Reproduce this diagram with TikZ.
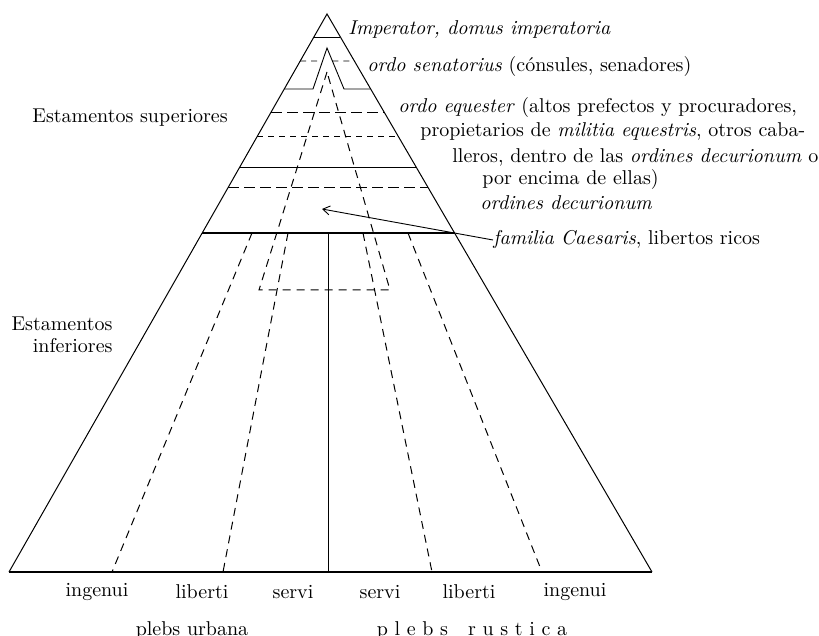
\documentclass[tikz,border=0pt]{standalone}
\usepackage{fontspec}
\usepackage{tikz}
\usetikzlibrary{arrows.meta,calc}

\begin{document}
\begin{tikzpicture}[x=0.5pt,y=-0.5pt,>={Straight Barb[length=3.5pt,width=4.5pt]},
  side/.style={line width=.5pt},
  rank/.style={line width=.45pt},
  rankdash/.style={rank,dash pattern=on 5.5pt off 2.5pt},
  rankfine/.style={rank,dash pattern=on 3pt off 2.5pt},
  split/.style={line width=.5pt,dash pattern=on 4pt off 3pt},
  lbl/.style={font=\fontsize{10}{12}\selectfont,inner sep=0pt,anchor=west},
  col/.style={font=\fontsize{10}{11}\selectfont,inner sep=0pt}]
 \useasboundingbox (0,0) rectangle (819,636);
 \coordinate (apex) at (327,14);
 \coordinate (bl) at (9,572);
 \coordinate (br) at (652,572);
 \draw[side] (bl) -- (apex) -- (br);
 \draw[line width=.6pt] (bl) -- (br);
 \foreach \y/\sty in {37/rank, 112/rankdash, 136/rankfine, 167/rank, 187/rankdash}
   \draw[\sty] ($(apex)!{(\y-14)/558}!(bl)$) -- ($(apex)!{(\y-14)/558}!(br)$);
 \draw[line width=1.1pt] ($(apex)!{219/558}!(bl)$) -- ($(apex)!{219/558}!(br)$);
 % ordo senatorius
 \coordinate (wtop) at (327,48);
 \coordinate (wl) at (313,89);
 \coordinate (wr) at (344,89);
 \draw[rank] ($(apex)!{75/558}!(bl)$) -- (wl) -- (wtop) -- (wr) -- ($(apex)!{75/558}!(br)$);
 \draw[rankfine] ($(apex)!{47/558}!(bl)$) -- ($(wtop)!{13/41}!(wl)$);
 \draw[rankfine] ($(wtop)!{13/41}!(wr)$) -- ($(apex)!{47/558}!(br)$);
 % familia Caesaris
 \draw[split] (327,72) -- (259,290) -- (390,290) -- cycle;
 \foreach \t/\b in {252/112, 288/223, 363/432, 408/542}
   \draw[split] (\t,233) -- (\b,572);
 \draw[side] (328,233) -- (328,572);
 \node[lbl] (imp) at (348,30) {\textit{Imperator, domus imperatoria}};
 \node[lbl] (sen) at (367,67) {\textit{ordo senatorius} (cónsules, senadores)};
 \node[lbl] (eq1) at (398,108) {\textit{ordo equester} (altos prefectos y procuradores,};
 \node[lbl] (eq2) at (420,132) {propietarios de \textit{militia equestris}, otros caba-};
 \node[lbl] (eq3) at (452,157) {lleros, dentro de las \textit{ordines decurionum} o};
 \node[lbl] (eq4) at (482,180) {por encima de ellas)};
 \node[lbl] (dec) at (480,203) {\textit{ordines decurionum}};
 \node[lbl] (fam) at (493,240) {\textit{familia Caesaris}, libertos ricos};
 \coordinate (famtip) at (322,209);
 \draw[->,line width=.45pt] (fam.west) -- (famtip);
 \node[lbl] (sup) at (32,118) {Estamentos superiores};
 \node[col,align=right,anchor=east] (inf) at (113,335) {Estamentos\\inferiores};
 \foreach \x/\w [count=\i] in {97/ingenui, 202/liberti, 293/servi, 380/servi, 469/liberti, 575/ingenui}
   \node[col] (c\i) at (\x,592) {\w};
 \node[col] (urb) at (192,630) {plebs urbana};
 \node[col] (rus) at (472,630) {p l e b s \ \ r u s t i c a};
\end{tikzpicture}
\end{document}
